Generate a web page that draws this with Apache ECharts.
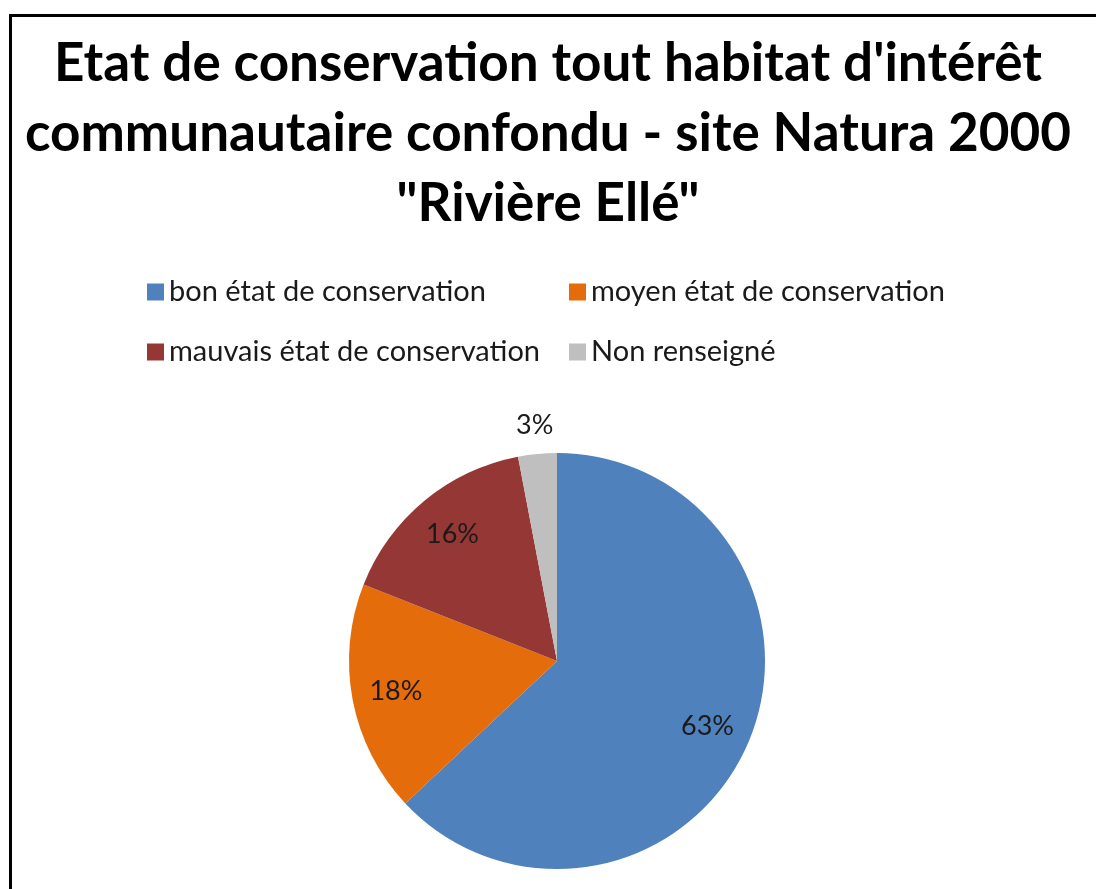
<!DOCTYPE html>
<html>
<head>
<meta charset="utf-8">
<style>
  html, body { margin: 0; padding: 0; background: #ffffff; }
  #chart { width: 1096px; height: 889px; }
</style>
<script src="https://cdn.jsdelivr.net/npm/echarts@6/dist/echarts.min.js"></script>
</head>
<body>
<div id="chart"></div>
<script>
// Conservation status shares (percent), clockwise from 12 o'clock
const categories = [
  'bon état de conservation',
  'moyen état de conservation',
  'mauvais état de conservation',
  'Non renseigné'
];
const shares = [63, 18, 16, 3];
const colors = ['#4F81BD', '#E46C0A', '#953735', '#BFBFBF'];
const titleText = 'Etat de conservation tout habitat d\'intérêt\ncommunautaire confondu - site Natura 2000\n"Rivière Ellé"';

// Small slices get their label outside the pie
const outsideLabel = shares.map(v => v < 5);

const center = [557, 661];
const R = 208;
const labelFont = { fontFamily: 'Lato', fontSize: 27, color: '#1a1a1a' };
const legendText = { fontFamily: 'Lato', fontSize: 29, color: '#1a1a1a', lineHeight: 30 };

const baseData = categories.map((name, i) => ({
  name, value: shares[i], itemStyle: { color: colors[i] }
}));

const chart = echarts.init(document.getElementById('chart'), null, { renderer: 'canvas' });

chart.setOption({
  backgroundColor: '#ffffff',
  animation: false,
  title: {
    text: titleText,
    left: 'center',
    top: 24,
    textStyle: {
      fontFamily: 'Lato',
      fontWeight: 'bold',
      fontSize: 53,
      lineHeight: 70,
      color: '#000000'
    }
  },
  legend: [
    {
      orient: 'vertical',
      left: 147,
      top: 277,
      padding: 0,
      itemWidth: 17,
      itemHeight: 17,
      itemGap: 30,
      icon: 'rect',
      data: [categories[0], categories[2]],
      textStyle: legendText
    },
    {
      orient: 'vertical',
      left: 569,
      top: 277,
      padding: 0,
      itemWidth: 17,
      itemHeight: 17,
      itemGap: 30,
      icon: 'rect',
      data: [categories[1], categories[3]],
      textStyle: legendText
    }
  ],
  graphic: [
    {
      type: 'rect',
      shape: { x: 10.5, y: 15.5, width: 1200, height: 1000 },
      style: { fill: 'none', stroke: '#000000', lineWidth: 3 },
      silent: true
    }
  ],
  series: [
    {
      name: 'pie',
      type: 'pie',
      center: center,
      radius: [0, R],
      startAngle: 90,
      clockwise: true,
      label: { show: false },
      labelLine: { show: false },
      itemStyle: { borderWidth: 0 },
      emphasis: { disabled: true },
      data: baseData
    },
    {
      // label ring inside the pie
      name: 'labels-in',
      type: 'pie',
      center: center,
      radius: [114, R],
      startAngle: 90,
      clockwise: true,
      silent: true,
      legendHoverLink: false,
      labelLine: { show: false },
      emphasis: { disabled: true },
      data: categories.map((name, i) => ({
        name, value: shares[i],
        itemStyle: { color: 'transparent' },
        label: { show: !outsideLabel[i], position: 'inside', formatter: '{d}%', ...labelFont }
      }))
    },
    {
      // label ring just outside the pie
      name: 'labels-out',
      type: 'pie',
      center: center,
      radius: [R, 260],
      startAngle: 90,
      clockwise: true,
      silent: true,
      legendHoverLink: false,
      labelLine: { show: false },
      emphasis: { disabled: true },
      data: categories.map((name, i) => ({
        name, value: shares[i],
        itemStyle: { color: 'transparent' },
        label: { show: outsideLabel[i], position: 'inside', formatter: '{d}%', ...labelFont }
      }))
    }
  ]
});
</script>
</body>
</html>
